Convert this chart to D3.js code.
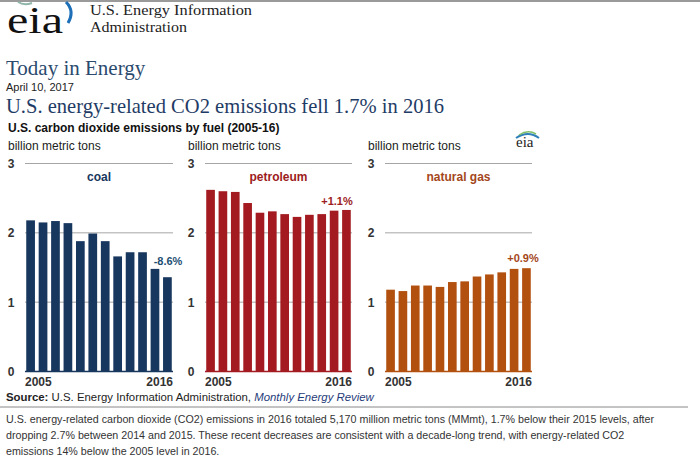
<!DOCTYPE html>
<html>
<head>
<meta charset="utf-8">
<style>
  body { margin: 0; background: #fff; }
  svg { display: block; }
</style>
</head>
<body>
<svg width="700" height="461"></svg>
<script src="https://cdn.jsdelivr.net/npm/d3@7/dist/d3.min.js"></script>
<script>
    // data (billion metric tons)
    const years = ["2005","2006","2007","2008","2009","2010","2011","2012","2013","2014","2015","2016"];
    const coal = [2.18, 2.15, 2.17, 2.14, 1.88, 1.99, 1.88, 1.66, 1.72, 1.72, 1.48, 1.36];
    const petroleum = [2.62, 2.60, 2.59, 2.43, 2.29, 2.31, 2.27, 2.23, 2.26, 2.27, 2.32, 2.33];
    const naturalGas = [1.18, 1.16, 1.24, 1.24, 1.22, 1.29, 1.30, 1.37, 1.40, 1.43, 1.48, 1.49];
    const fuels = ["coal", "petroleum", "natural gas"];
    const changes = ["-8.6%", "+1.1%", "+0.9%"];
    const yTicks = [0, 1, 2, 3];

    const SERIF = "'Liberation Serif', 'Times New Roman', serif";
    const SANS = "'Liberation Sans', Arial, sans-serif";

    const svg = d3.select("svg");

    // ---- header ----
    svg.append("line").attr("x1", 0).attr("x2", 700).attr("y1", 1).attr("y2", 1)
        .attr("stroke", "#9a9a9a").attr("stroke-width", 2);
    svg.append("text").attr("x", 7).attr("y", 33)
        .attr("font-family", SERIF).attr("font-size", 37)
        .attr("textLength", 56).attr("lengthAdjust", "spacingAndGlyphs")
        .attr("fill", "#111").text("eia");
    svg.append("path").attr("d", "M66,2 Q75,11 68,23")
        .attr("fill", "none").attr("stroke", "#1d6fb8").attr("stroke-width", 3);
    svg.append("path").attr("d", "M18,2 Q24,6 32,3")
        .attr("fill", "none").attr("stroke", "#8fb6a8").attr("stroke-width", 2);
    svg.append("text").attr("x", 90).attr("y", 14.5)
        .attr("font-family", SERIF).attr("font-size", 15.5).attr("fill", "#222")
        .attr("textLength", 162).attr("lengthAdjust", "spacingAndGlyphs")
        .text("U.S. Energy Information");
    svg.append("text").attr("x", 90).attr("y", 32)
        .attr("font-family", SERIF).attr("font-size", 15.5).attr("fill", "#222")
        .attr("textLength", 97).attr("lengthAdjust", "spacingAndGlyphs")
        .text("Administration");

    svg.append("text").attr("x", 6).attr("y", 75)
        .attr("font-family", SERIF).attr("font-size", 21).attr("fill", "#2b4a6e")
        .text("Today in Energy");
    svg.append("text").attr("x", 6).attr("y", 91)
        .attr("font-family", SANS).attr("font-size", 11).attr("fill", "#222")
        .text("April 10, 2017");
    svg.append("text").attr("x", 6).attr("y", 113)
        .attr("font-family", SERIF).attr("font-size", 21).attr("fill", "#1f3c66")
        .attr("textLength", 438).attr("lengthAdjust", "spacingAndGlyphs")
        .text("U.S. energy-related CO2 emissions fell 1.7% in 2016");
    svg.append("text").attr("x", 8).attr("y", 132)
        .attr("font-family", SANS).attr("font-size", 12).attr("font-weight", "bold").attr("fill", "#111")
        .text("U.S. carbon dioxide emissions by fuel (2005-16)");

    // small logo at top right of chart
    svg.append("text").attr("x", 516).attr("y", 147)
        .attr("font-family", SERIF).attr("font-size", 15).attr("fill", "#222").text("eia");
    svg.append("path").attr("d", "M516,138 Q528,130 539,138")
        .attr("fill", "none").attr("stroke", "#2f7fb8").attr("stroke-width", 2);
    svg.append("path").attr("d", "M519,135 Q528,129 536,134")
        .attr("fill", "none").attr("stroke", "#7fbf6a").attr("stroke-width", 1.5);

    // ---- panels ----
    const panels = [
        { values: coal, x0: 25, x1: 173, fill: "#17375e", label: "#17375e", chg: "#1d4f73", chgX: 168, chgY: 265 },
        { values: petroleum, x0: 205, x1: 352, fill: "#a31b20", label: "#9c1c22", chg: "#9c1c22", chgX: 337, chgY: 205 },
        { values: naturalGas, x0: 385, x1: 532, fill: "#b2500f", label: "#a4461a", chg: "#a4461a", chgX: 523, chgY: 262 }
    ];

    const y = d3.scaleLinear().domain([0, 3]).range([371.5, 163.5]);

    panels.forEach((p, i) => {
        const g = svg.append("g");
        const x = d3.scaleBand().domain(years).range([p.x0, p.x1])
            .paddingInner(0.3).paddingOuter(0.1);

        g.append("text").attr("x", p.x0 - 17).attr("y", 150)
            .attr("font-family", SANS).attr("font-size", 12).attr("fill", "#222")
            .text("billion metric tons");

        // grid lines + tick labels
        g.selectAll(".grid").data(yTicks.filter(d => d > 0)).enter().append("line")
            .attr("x1", p.x0).attr("x2", p.x1)
            .attr("y1", d => y(d)).attr("y2", d => y(d))
            .attr("stroke", "#a6a6a6").attr("stroke-width", 1);
        g.selectAll(".tick").data(yTicks).enter().append("text")
            .attr("x", p.x0 - 14).attr("y", d => y(d) + 4.5)
            .attr("text-anchor", "middle")
            .attr("font-family", SANS).attr("font-size", 12).attr("font-weight", "bold").attr("fill", "#333")
            .text(d => d);

        g.selectAll(".bar").data(p.values).enter().append("rect")
            .attr("x", (d, j) => x(years[j]))
            .attr("width", x.bandwidth())
            .attr("y", d => y(d))
            .attr("height", d => y(0) - y(d))
            .attr("fill", p.fill);

        g.append("line").attr("x1", p.x0).attr("x2", p.x1)
            .attr("y1", y(0)).attr("y2", y(0))
            .attr("stroke", p.fill).attr("stroke-width", 1.5);

        // year labels at both ends
        g.append("text").attr("x", p.x0).attr("y", 386)
            .attr("font-family", SANS).attr("font-size", 12).attr("font-weight", "bold").attr("fill", "#333")
            .text(years[0]);
        g.append("text").attr("x", p.x1).attr("y", 386).attr("text-anchor", "end")
            .attr("font-family", SANS).attr("font-size", 12).attr("font-weight", "bold").attr("fill", "#333")
            .text(years[years.length - 1]);

        g.append("text").attr("x", (p.x0 + p.x1) / 2).attr("y", 181)
            .attr("text-anchor", "middle")
            .attr("font-family", SANS).attr("font-size", 12).attr("font-weight", "bold").attr("fill", p.label)
            .text(fuels[i]);
        g.append("text").attr("x", p.chgX).attr("y", p.chgY)
            .attr("text-anchor", "middle")
            .attr("font-family", SANS).attr("font-size", 11).attr("font-weight", "bold").attr("fill", p.chg)
            .text(changes[i]);
    });

    // ---- source + body text ----
    const src = svg.append("text").attr("x", 6).attr("y", 401)
        .attr("font-family", SANS).attr("font-size", 11.4).attr("fill", "#222");
    src.append("tspan").attr("font-weight", "bold").text("Source:");
    src.append("tspan").text(" U.S. Energy Information Administration, ");
    src.append("tspan").attr("font-style", "italic").attr("fill", "#1f3c7a").text("Monthly Energy Review");

    svg.append("line").attr("x1", 0).attr("x2", 688).attr("y1", 407).attr("y2", 407)
        .attr("stroke", "#888").attr("stroke-width", 1);

    const body = [
        "U.S. energy-related carbon dioxide (CO2) emissions in 2016 totaled 5,170 million metric tons (MMmt), 1.7% below their 2015 levels, after",
        "dropping 2.7% between 2014 and 2015. These recent decreases are consistent with a decade-long trend, with energy-related CO2",
        "emissions 14% below the 2005 level in 2016."
    ];
    svg.selectAll(".body").data(body).enter().append("text")
        .attr("x", 6).attr("y", (d, i) => 423 + i * 16)
        .attr("font-family", SANS).attr("font-size", 10.7).attr("fill", "#333")
        .text(d => d);
</script>
</body>
</html>
